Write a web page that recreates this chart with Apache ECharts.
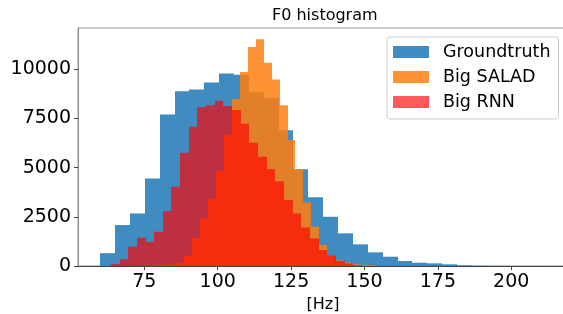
<!DOCTYPE html>
<html>
<head>
<meta charset="utf-8">
<script src="https://cdn.jsdelivr.net/npm/echarts@6/dist/echarts.min.js"></script>
<style>
  html, body { margin: 0; padding: 0; background: #fff; }
  #main { width: 563px; height: 314px; }
</style>
</head>
<body>
<div id="main"></div>
<script>
// bins: start (Hz), width (Hz), counts per bin
var gtStart = 60, gtWidth = 5.063;
var gtCounts = [650, 2080, 2670, 4450, 7700, 8880, 8970, 9320, 9780, 9720,
                8830, 8540, 6900, 4920, 3490, 2500, 1660, 1100, 695, 472,
                254, 169, 135, 85, 35, 15, 8, 5, 3, 2];

var saladStart = 72.3, saladWidth = 2.71;
var saladCounts = [10, 20, 30, 60, 90, 170, 525, 1420, 2420, 3400,
                   4840, 6650, 8480, 9860, 11130, 11520, 10320, 9480, 8170, 6400,
                   4910, 3230, 2000, 1070, 500, 280, 180, 90, 60, 40];

var rnnStart = 63.6, rnnWidth = 2.95;
var rnnCounts = [100, 340, 980, 1440, 1230, 1740, 2790, 4030, 5750, 7070,
                 8060, 8170, 8400, 8130, 7920, 7230, 6260, 5550, 4925, 4305,
                 3350, 2670, 1960, 1405, 812, 524, 254, 135, 40, 10];

var xTicks = [75, 100, 125, 150, 175, 200];
var yTicks = [0, 2500, 5000, 7500, 10000];

function bins(start, width, counts) {
    var out = [];
    for (var i = 0; i < counts.length; i++) {
        out.push([start + i * width, start + (i + 1) * width, counts[i]]);
    }
    return out;
}

function renderBin(params, api) {
    var p0 = api.coord([api.value(0), api.value(2)]);
    var p1 = api.coord([api.value(1), 0]);
    var x0 = Math.round(p0[0]), x1 = Math.round(p1[0]);
    return {
        type: 'rect',
        shape: { x: x0, y: p0[1], width: x1 - x0, height: p1[1] - p0[1] },
        style: { fill: api.visual('color') }
    };
}

var font = 'DejaVu Sans';
var myChart = echarts.init(document.getElementById('main'));

var option = {
    animation: false,
    title: {
        text: 'F0 histogram',
        left: 267,
        top: 3,
        textStyle: { fontFamily: font, fontSize: 16, fontWeight: 'normal', color: '#000' }
    },
    legend: {
        orient: 'vertical',
        left: 387,
        top: 37,
        icon: 'rect',
        itemWidth: 36,
        itemHeight: 12,
        itemGap: 7,
        padding: [6, 8, 8, 6],
        backgroundColor: 'rgba(255,255,255,0.8)',
        borderColor: '#cccccc',
        borderWidth: 1,
        borderRadius: 3,
        textStyle: { fontFamily: font, fontSize: 17.5, color: '#000', padding: [0, 0, 0, 9] },
        data: ['Groundtruth', 'Big SALAD', 'Big RNN']
    },
    grid: {
        left: 78,
        top: 28,
        right: -5,
        bottom: 48,
        outerBoundsMode: 'none',
        containLabel: false,
        show: true,
        borderColor: '#999',
        borderWidth: 1
    },
    xAxis: {
        type: 'value',
        min: 52.4,
        max: 219.35,
        name: '[Hz]',
        nameLocation: 'middle',
        nameGap: 25,
        nameTextStyle: { fontFamily: font, fontSize: 16, color: '#000' },
        splitLine: { show: false },
        axisLine: { show: true, lineStyle: { color: '#444' } },
        axisTick: { show: true, length: 4, customValues: xTicks, lineStyle: { color: '#444' } },
        axisLabel: { fontFamily: font, fontSize: 19, color: '#000', margin: 7, customValues: xTicks }
    },
    yAxis: {
        type: 'value',
        min: 0,
        max: 12090,
        splitLine: { show: false },
        axisLine: { show: true, lineStyle: { color: '#888' } },
        axisTick: { show: true, length: 4, customValues: yTicks, lineStyle: { color: '#444' } },
        axisLabel: {
            fontFamily: font, fontSize: 19, color: '#000', margin: 7, customValues: yTicks,
            formatter: function (v) { return String(v); }
        }
    },
    series: [
        {
            name: 'Groundtruth',
            type: 'custom',
            renderItem: renderBin,
            itemStyle: { color: 'rgba(31,119,180,0.85)' },
            encode: { x: [0, 1], y: 2 },
            data: bins(gtStart, gtWidth, gtCounts)
        },
        {
            name: 'Big SALAD',
            type: 'custom',
            renderItem: renderBin,
            itemStyle: { color: 'rgba(255,127,14,0.85)' },
            encode: { x: [0, 1], y: 2 },
            data: bins(saladStart, saladWidth, saladCounts)
        },
        {
            name: 'Big RNN',
            type: 'custom',
            renderItem: renderBin,
            itemStyle: { color: 'rgba(255,0,0,0.65)' },
            encode: { x: [0, 1], y: 2 },
            data: bins(rnnStart, rnnWidth, rnnCounts)
        }
    ]
};

myChart.setOption(option);
window.onresize = myChart.resize;
</script>
</body>
</html>
